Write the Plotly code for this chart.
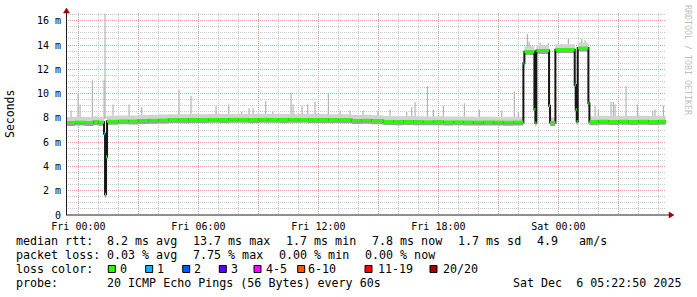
import plotly.graph_objects as go

# ---------------- data ----------------
median_times = [
    "2025-12-04 23:20", "2025-12-04 23:50", "2025-12-05 00:20", "2025-12-05 00:45",
    "2025-12-05 01:00", "2025-12-05 01:17", "2025-12-05 01:20", "2025-12-05 01:23",
    "2025-12-05 01:26", "2025-12-05 02:00", "2025-12-05 02:30", "2025-12-05 03:00",
    "2025-12-05 03:30", "2025-12-05 04:00", "2025-12-05 04:30", "2025-12-05 05:00",
    "2025-12-05 05:30", "2025-12-05 06:00", "2025-12-05 06:30", "2025-12-05 07:00",
    "2025-12-05 07:30", "2025-12-05 08:00", "2025-12-05 08:30", "2025-12-05 09:00",
    "2025-12-05 09:30", "2025-12-05 10:00", "2025-12-05 10:30", "2025-12-05 11:00",
    "2025-12-05 11:30", "2025-12-05 12:00", "2025-12-05 12:30", "2025-12-05 13:00",
    "2025-12-05 13:40", "2025-12-05 14:10", "2025-12-05 14:40", "2025-12-05 15:15",
    "2025-12-05 15:45", "2025-12-05 16:15", "2025-12-05 16:45", "2025-12-05 17:15",
    "2025-12-05 17:45", "2025-12-05 18:15", "2025-12-05 18:45", "2025-12-05 19:15",
    "2025-12-05 19:45", "2025-12-05 20:15", "2025-12-05 20:45", "2025-12-05 21:15",
    "2025-12-05 21:45", "2025-12-05 22:15", "2025-12-05 22:18", "2025-12-05 22:48",
    "2025-12-05 22:51", "2025-12-05 22:54", "2025-12-05 23:32", "2025-12-05 23:35",
    "2025-12-05 23:51", "2025-12-06 00:49", "2025-12-06 00:52", "2025-12-06 00:55",
    "2025-12-06 00:58", "2025-12-06 01:30", "2025-12-06 01:33", "2025-12-06 02:00",
    "2025-12-06 02:30", "2025-12-06 03:00", "2025-12-06 03:30", "2025-12-06 04:00",
    "2025-12-06 04:30", "2025-12-06 05:00", "2025-12-06 05:22",
]
median_ms = [
    7.62, 7.65, 7.62, 7.68,
    7.64, 6.7, 1.7, 4.8,
    7.72, 7.75, 7.74, 7.78,
    7.80, 7.82, 7.85, 7.84,
    7.86, 7.85, 7.87, 7.86,
    7.88, 7.87, 7.86, 7.88,
    7.87, 7.86, 7.88, 7.87,
    7.86, 7.86, 7.85, 7.84,
    7.78, 7.80, 7.76, 7.70,
    7.68, 7.70, 7.68, 7.67,
    7.68, 7.66, 7.67, 7.66,
    7.65, 7.66, 7.65, 7.64,
    7.65, 12.5, 13.45, 8.7,
    7.6, 13.55, 9.0, 7.62,
    13.62, 10.7, 8.7, 7.7,
    13.75, 9.2, 7.68, 7.72,
    7.70, 7.72, 7.70, 7.72,
    7.70, 7.72, 7.72,
]
median_loss = [0] * len(median_ms)
median_loss[5] = 1
median_loss[49] = 1

spike_times = [
    "2025-12-04 23:38", "2025-12-04 23:59", "2025-12-05 00:05", "2025-12-05 00:42",
    "2025-12-05 01:17", "2025-12-05 01:20", "2025-12-05 01:44", "2025-12-05 02:32",
    "2025-12-05 03:10", "2025-12-05 05:02", "2025-12-05 05:38", "2025-12-05 06:53",
    "2025-12-05 07:31", "2025-12-05 08:10", "2025-12-05 08:32", "2025-12-05 08:44",
    "2025-12-05 09:22", "2025-12-05 09:43", "2025-12-05 10:38", "2025-12-05 10:44",
    "2025-12-05 11:11", "2025-12-05 11:28", "2025-12-05 11:50", "2025-12-05 12:30",
    "2025-12-05 13:05", "2025-12-05 13:35", "2025-12-05 14:14", "2025-12-05 14:59",
    "2025-12-05 15:35", "2025-12-05 16:25", "2025-12-05 16:40", "2025-12-05 16:50",
    "2025-12-05 17:27", "2025-12-05 17:45", "2025-12-05 18:15", "2025-12-05 19:18",
    "2025-12-05 20:03", "2025-12-05 21:10", "2025-12-05 21:48", "2025-12-05 22:00",
    "2025-12-05 22:27", "2025-12-05 22:32", "2025-12-05 22:35", "2025-12-05 23:05",
    "2025-12-05 23:30", "2025-12-06 00:10", "2025-12-06 00:30", "2025-12-06 01:10",
    "2025-12-06 01:20", "2025-12-06 01:50", "2025-12-06 02:00", "2025-12-06 02:38",
    "2025-12-06 02:45", "2025-12-06 02:50", "2025-12-06 03:23", "2025-12-06 03:57",
    "2025-12-06 04:43", "2025-12-06 04:50", "2025-12-06 05:15",
]
spike_base_ms = [
    7.9, 7.9, 7.9, 7.9,
    7.9, 7.9, 7.9, 7.9,
    7.9, 8.0, 8.0, 8.0,
    8.0, 8.0, 8.0, 8.0,
    8.0, 8.0, 8.0, 8.0,
    8.0, 8.0, 8.0, 8.0,
    8.0, 7.9, 7.9, 7.9,
    7.9, 7.9, 7.9, 7.9,
    7.9, 7.9, 7.9, 7.9,
    7.9, 7.9, 7.9, 7.9,
    13.6, 13.6, 13.6, 13.7,
    13.7, 13.8, 13.8, 13.9,
    13.9, 7.9, 7.9, 7.9,
    7.9, 7.9, 7.9, 7.9,
    7.9, 7.9, 7.9,
]
spike_top_ms = [
    8.6, 10.0, 9.1, 11.1,
    11.1, 16.6, 9.1, 9.1,
    8.9, 10.3, 9.8, 9.0,
    9.1, 8.5, 8.8, 8.8,
    9.4, 8.5, 10.1, 9.1,
    9.0, 9.1, 9.3, 10.0,
    8.6, 8.6, 8.6, 8.6,
    8.7, 8.5, 8.9, 9.3,
    10.6, 8.7, 9.0, 9.2,
    8.7, 8.6, 10.2, 8.5,
    14.9, 14.3, 14.0, 14.2,
    14.15, 14.1, 14.5, 14.5,
    14.4, 9.0, 8.7, 9.3,
    9.3, 9.1, 10.6, 9.1,
    8.6, 8.7, 9.0,
]

y_tick_vals = [0, 2, 4, 6, 8, 10, 12, 14, 16]
y_tick_text = ["0", "2 m", "4 m", "6 m", "8 m", "10 m", "12 m", "14 m", "16 m"]
x_tick_vals = ["2025-12-05 00:00", "2025-12-05 03:00", "2025-12-05 06:00", "2025-12-05 09:00",
               "2025-12-05 12:00", "2025-12-05 15:00", "2025-12-05 18:00", "2025-12-05 21:00",
               "2025-12-06 00:00", "2025-12-06 03:00"]
x_tick_text = ["Fri 00:00", "", "Fri 06:00", "", "Fri 12:00", "", "Fri 18:00", "",
               "Sat 00:00", ""]

loss_labels = ["0", "1", "2", "3", "4-5", "6-10", "11-19", "20/20"]
loss_colors = ["#26ff00", "#00b8ff", "#0059ff", "#5e00ff", "#ff00ff", "#ff5500", "#ff0000", "#a00000"]

legend_row1 = ["median rtt:", "8.2 ms avg", "13.7 ms max", "1.7 ms min", "7.8 ms now", "1.7 ms sd", "4.9   am/s"]
legend_row2 = ["packet loss:", "0.03 % avg", "7.75 % max", "0.00 % min", "0.00 % now"]
legend_row3_label = "loss color:"
legend_row4 = ["probe:", "20 ICMP Echo Pings (56 Bytes) every 60s"]
stamp_text = "Sat Dec  6 05:22:50 2025"
watermark = "RRDTOOL / TOBI OETIKER"

X_START = "2025-12-04 23:22:50"
X_END = "2025-12-06 05:22:50"
Y_MAX = 16.64

# ---------------- layout helpers ----------------
W, H = 697, 297
PL, PR, PT, PB = 66, 666, 13, 215
MONO = "DejaVu Sans Mono"


def px(x):
    return (x - PL) / (PR - PL)


def py(y):
    return (PB - y) / (PB - PT)


def nb(s):
    return s.replace(" ", "\u00a0")


fig = go.Figure()

# light smoke spikes
sx, sy = [], []
for t, b, top in zip(spike_times, spike_base_ms, spike_top_ms):
    sx += [t, t, None]
    sy += [b, top, None]
fig.add_trace(go.Scatter(x=sx, y=sy, mode="lines", line=dict(color="#b4b4b4", width=1.2),
                         hoverinfo="skip", showlegend=False))

# smoke band around median
upper = [v + 0.45 for v in median_ms]
lower = [v - 0.28 for v in median_ms]
fig.add_trace(go.Scatter(x=median_times, y=median_ms, mode="lines", line=dict(width=0, shape="hv"),
                         hoverinfo="skip", showlegend=False))
fig.add_trace(go.Scatter(x=median_times, y=upper, mode="lines", line=dict(width=0, shape="hv"),
                         fill="tonexty", fillcolor="#d2d2d2", hoverinfo="skip", showlegend=False))
fig.add_trace(go.Scatter(x=median_times, y=lower, mode="lines", line=dict(width=0, shape="hv"),
                         hoverinfo="skip", showlegend=False))
fig.add_trace(go.Scatter(x=median_times, y=median_ms, mode="lines", line=dict(width=0, shape="hv"),
                         fill="tonexty", fillcolor="#a0a0a0", hoverinfo="skip", showlegend=False))

# dark median step line (transitions)
fig.add_trace(go.Scatter(x=median_times, y=median_ms, mode="lines",
                         line=dict(color="#161616", width=2, shape="hv"),
                         hoverinfo="skip", showlegend=False))

# coloured horizontal median segments by loss
for ci, col in enumerate(loss_colors):
    gx, gy = [], []
    for i in range(len(median_ms) - 1):
        if median_loss[i] == ci:
            gx += [median_times[i], median_times[i + 1], None]
            gy += [median_ms[i], median_ms[i], None]
    if gx:
        fig.add_trace(go.Scatter(x=gx, y=gy, mode="lines", line=dict(color=col, width=3),
                                 hoverinfo="skip", showlegend=False))

annotations = []


def ann(text, x, y, size=11.66, anchor="left", color="#000000", angle=0):
    annotations.append(dict(text=nb(text), x=px(x), y=py(y), xref="paper", yref="paper",
                            xanchor=anchor, yanchor="middle", showarrow=False,
                            borderpad=0, borderwidth=0, textangle=angle,
                            font=dict(family=MONO, size=size, color=color)))


# legend rows
row1_x = [16, 107.3, 193.3, 286.3, 372.3, 458.3, 537.3]
for t, x in zip(legend_row1, row1_x):
    ann(t, x, 241)
row2_x = [16, 107.3, 193.3, 279.3, 365.3]
for t, x in zip(legend_row2, row2_x):
    ann(t, x, 255)
ann(legend_row3_label, 16, 269)
box_x = [108.3, 145.7, 182.7, 219.3, 254, 297.7, 365, 430]
label_x = [120.3, 157.3, 194.3, 231, 265.7, 308.3, 378.3, 443]
shapes = []
for lab, col, bx, lx in zip(loss_labels, loss_colors, box_x, label_x):
    shapes.append(dict(type="rect", xref="paper", yref="paper", x0=px(bx), x1=px(bx + 7),
                       y0=py(272.5), y1=py(265.5), fillcolor=col, line=dict(color="#000000", width=1)))
    ann(lab, lx, 269)
ann(legend_row4[0], 16, 283)
ann(legend_row4[1], 107.3, 283)
ann(stamp_text, 513.3, 283)

# axis title and watermark
ann("Seconds", 10, 114, size=11.5, anchor="center", angle=-90)
ann(watermark, 688, 60, size=8.3, anchor="center", color="#c0c0c0", angle=90)

# axis lines and arrows
shapes.append(dict(type="line", xref="paper", yref="paper", x0=px(66), x1=px(670), y0=py(215), y1=py(215),
                   line=dict(color="#202020", width=1)))
shapes.append(dict(type="line", xref="paper", yref="paper", x0=px(66.5), x1=px(66.5), y0=py(215), y1=py(11),
                   line=dict(color="#202020", width=1)))
shapes.append(dict(type="path", xref="paper", yref="paper",
                   path=f"M {px(669)},{py(212)} L {px(674)},{py(215)} L {px(669)},{py(218)} Z",
                   fillcolor="#990000", line=dict(color="#990000", width=0.5)))
shapes.append(dict(type="path", xref="paper", yref="paper",
                   path=f"M {px(63.5)},{py(13)} L {px(66.5)},{py(8)} L {px(69.5)},{py(13)} Z",
                   fillcolor="#990000", line=dict(color="#990000", width=0.5)))

fig.update_layout(
    width=W, height=H,
    margin=dict(l=PL, r=W - PR, t=PT, b=H - PB, pad=0),
    paper_bgcolor="#ffffff", plot_bgcolor="#ffffff",
    showlegend=False,
    annotations=annotations,
    shapes=shapes,
    xaxis=dict(type="date", range=[X_START, X_END], tickmode="array",
               tickvals=x_tick_vals, ticktext=x_tick_text,
               showgrid=True, gridcolor="#e49a9a", gridwidth=1, griddash="1px,1px",
               minor=dict(dtick=3600000, showgrid=True, gridcolor="#c8c8c8", griddash="1px,1px", gridwidth=1),
               showline=False, zeroline=False, ticks="", ticklabelstandoff=4,
               tickfont=dict(family=MONO, size=10, color="#000000")),
    yaxis=dict(range=[0, Y_MAX], tickmode="array", tickvals=y_tick_vals, ticktext=y_tick_text,
               showgrid=True, gridcolor="#e49a9a", gridwidth=1, griddash="1px,1px",
               minor=dict(dtick=0.5, showgrid=True, gridcolor="#c8c8c8", griddash="1px,1px", gridwidth=1),
               showline=False, zeroline=False, ticks="", ticklabelstandoff=4,
               tickfont=dict(family=MONO, size=10, color="#000000")),
)

fig.write_html("out.html")
